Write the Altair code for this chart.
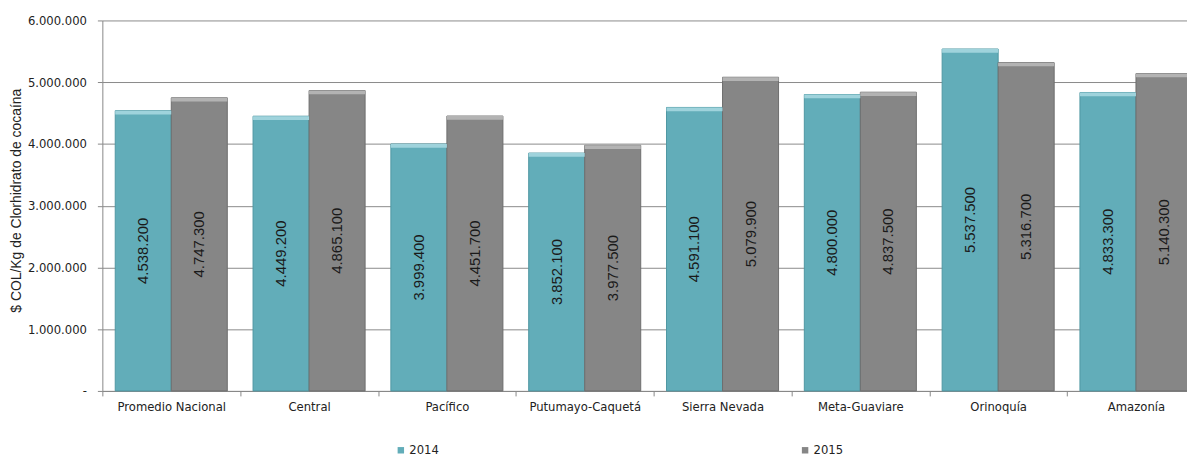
import altair as alt
import pandas as pd

regions = ["Promedio Nacional", "Central", "Pacífico", "Putumayo-Caquetá",
           "Sierra Nevada", "Meta-Guaviare", "Orinoquía", "Amazonía"]
years = ["2014", "2015"]
v2014 = [4538200, 4449200, 3999400, 3852100, 4591100, 4800000, 5537500, 4833300]
v2015 = [4747300, 4865100, 4451700, 3977500, 5079900, 4837500, 5316700, 5140300]
y_ticks = [0, 1000000, 2000000, 3000000, 4000000, 5000000, 6000000]

rows = []
for r, a, b in zip(regions, v2014, v2015):
    rows.append({"region": r, "year": "2014", "value": a})
    rows.append({"region": r, "year": "2015", "value": b})
df = pd.DataFrame(rows)

NARROW = "'Liberation Sans Narrow', 'DejaVu Sans Condensed', 'Liberation Sans', sans-serif"
REG = "Liberation Sans"
TEAL = "#62adb9"
GRAY = "#868686"

x_enc = alt.X(
    "region:N", sort=regions, title=None,
    scale=alt.Scale(paddingInner=0, paddingOuter=0),
    axis=alt.Axis(labelAngle=0, labelFont=NARROW, labelFontSize=13, labelColor="#222222",
                  tickBand="extent", tickSize=5, tickColor="#888888",
                  domainColor="#888888", labelPadding=5, grid=False),
)
xo_enc = alt.XOffset("year:N", sort=years,
                     scale=alt.Scale(paddingInner=0, paddingOuter=0.23))

base = alt.Chart(df).encode(x=x_enc, xOffset=xo_enc)

bars = base.mark_bar(strokeWidth=1).encode(
    y=alt.Y("value:Q",
            scale=alt.Scale(domain=[0, 6000000], nice=False),
            axis=alt.Axis(values=y_ticks, title="$ COL/Kg de Clorhidrato de cocaína",
                          labelExpr="datum.value == 0 ? '-' : format(datum.value, ',')",
                          labelFont=NARROW, labelFontSize=13,
                          labelColor="#222222", tickSize=5, tickColor="#888888",
                          labelPadding=11, domainColor="#888888",
                          gridColor="#8a8a8a", gridWidth=1,
                          titleFont=REG, titleFontSize=14, titleFontWeight="normal",
                          titleColor="#222222", titleX=-86, titleY=181,
                          titleAngle=270, titleAlign="center", titleBaseline="middle")),
    color=alt.Color("year:N", sort=years,
                    scale=alt.Scale(domain=years, range=[TEAL, GRAY]),
                    legend=alt.Legend(orient="none", legendX=294, legendY=426,
                                      direction="horizontal", title=None,
                                      symbolType="square", symbolSize=42,
                                      symbolStrokeWidth=0, labelOffset=2,
                                      labelFont=NARROW, labelFontSize=13,
                                      labelColor="#222222", columnPadding=362,
                                      padding=0)),
    stroke=alt.Stroke("year:N", scale=alt.Scale(domain=years, range=["#4f97a2", "#6e6e6e"]),
                      legend=None),
)

caps = base.transform_calculate(
    capLow="datum.value - 60000",
    capColor="datum.year == '2014' ? '#9fd3dc' : '#b3b3b3'",
).mark_bar(strokeWidth=0).encode(
    y=alt.Y("value:Q"),
    y2="capLow:Q",
    fill=alt.Fill("capColor:N", scale=None),
)

labels = base.transform_calculate(mid="datum.value / 2").mark_text(
    angle=270, font=REG, fontSize=15, color="#1a1a1a",
    align="center", baseline="middle",
).encode(
    y=alt.Y("mid:Q"),
    text=alt.Text("value:Q", format=","),
)

chart = alt.layer(bars, caps, labels).properties(
    width=1110, height=373,
    padding={"left": 95, "top": 11, "right": -18, "bottom": 68},
    autosize=alt.AutoSizeParams(type="none"),
).configure_view(stroke=None)

chart.save("out.html", embed_options={
    "renderer": "svg", "actions": False,
    "formatLocale": {"decimal": ",", "thousands": ".", "grouping": [3], "currency": ["$", ""]},
})
